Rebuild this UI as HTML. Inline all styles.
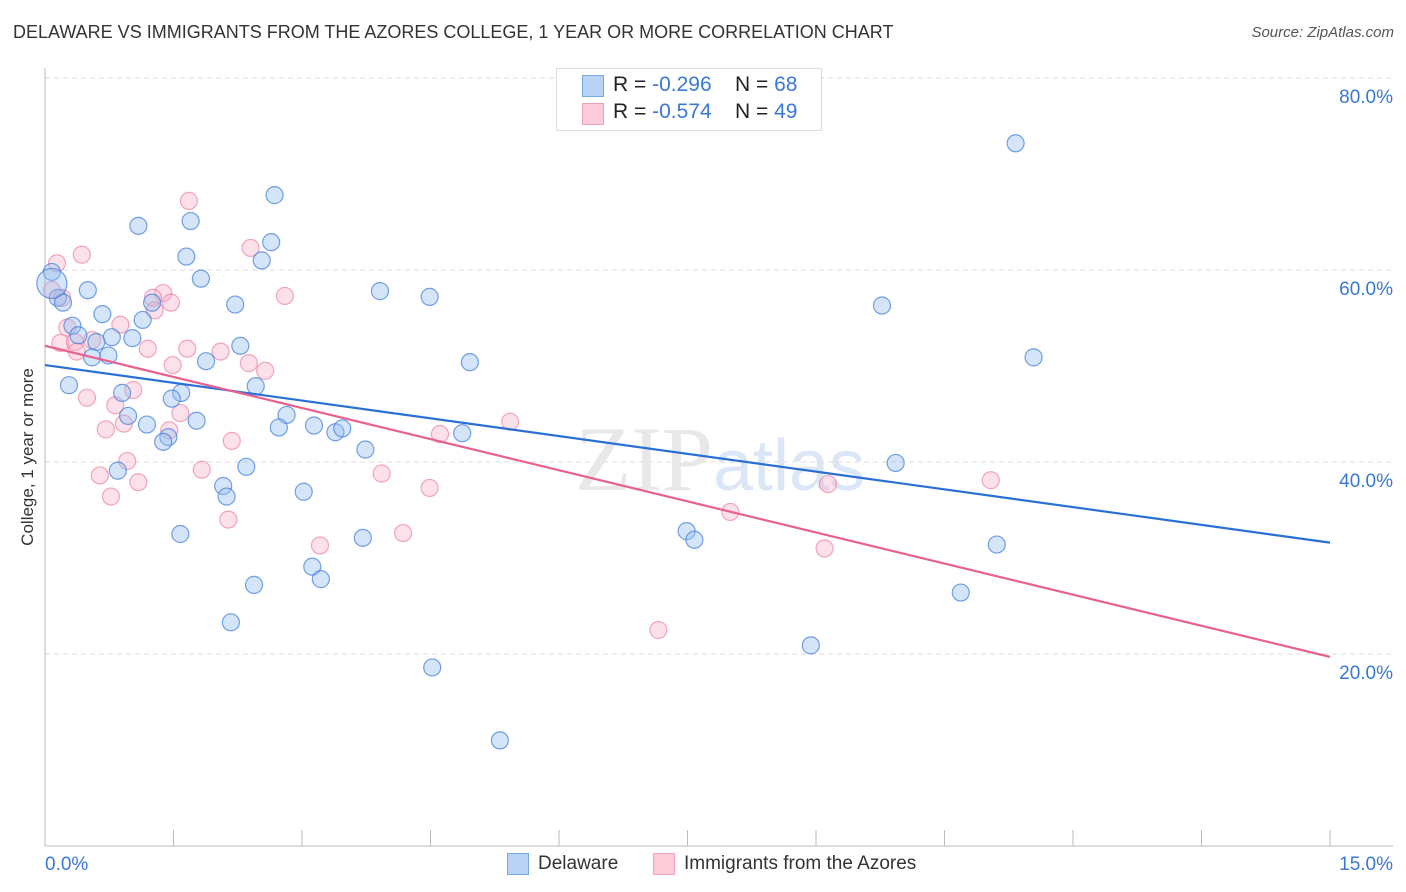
<!DOCTYPE html>
<html><head><meta charset="utf-8">
<style>
body{margin:0;background:#fff;font-family:"Liberation Sans",sans-serif;}
#wrap{position:relative;width:1406px;height:892px;overflow:hidden;}
.t{position:absolute;white-space:nowrap;}
</style></head>
<body>
<div id="wrap">
<div class="t" style="left:13px;top:22px;font-size:18px;color:#333;">DELAWARE VS IMMIGRANTS FROM THE AZORES COLLEGE, 1 YEAR OR MORE CORRELATION CHART</div>
<div class="t" style="right:12px;top:24px;font-size:15px;color:#555;font-style:italic;">Source: ZipAtlas.com</div>
<div class="t" style="left:28px;top:457px;font-size:17px;color:#333;transform:translate(-50%,-50%) rotate(-90deg);">College, 1 year or more</div>
<svg id="chart" width="1406" height="892" style="position:absolute;left:0;top:0"></svg>
<div style="position:absolute;left:556px;top:68px;width:264px;height:61px;border:1px solid #ddd;background:#fff;"></div>
<div style="position:absolute;left:582px;top:75px;width:20px;height:20px;background:#b9d3f5;border:1px solid #7aa8e6;"></div>
<div style="position:absolute;left:582px;top:103px;width:20px;height:20px;background:#fbcbd9;border:1px solid #f0a0b8;"></div>
<div class="t" style="left:613px;top:73px;font-size:21px;color:#222;">R = <span style="color:#3a78d6">-0.296</span>&nbsp;&nbsp;&nbsp;&nbsp;N = <span style="color:#3a78d6">68</span></div>
<div class="t" style="left:613px;top:100px;font-size:21px;color:#222;">R = <span style="color:#3a78d6">-0.574</span>&nbsp;&nbsp;&nbsp;&nbsp;N = <span style="color:#3a78d6">49</span></div>
<div style="position:absolute;left:507px;top:853px;width:20px;height:20px;background:#b9d3f5;border:1px solid #7aa8e6;"></div>
<div class="t" style="left:538px;top:853px;font-size:19px;color:#333;">Delaware</div>
<div style="position:absolute;left:653px;top:853px;width:20px;height:20px;background:#fbcbd9;border:1px solid #f0a0b8;"></div>
<div class="t" style="left:684px;top:853px;font-size:19px;color:#333;">Immigrants from the Azores</div>
</div>
<script>
const xTicks=[0,1.5,3,4.5,6,7.5,9,10.5,12,13.5,15];
const yTicks=[20,40,60,80];
const yTickLabels=["20.0%","40.0%","60.0%","80.0%"];
const blueX=[11.33,2.68,1.09,1.70,2.64,1.65,2.53,1.82,0.08,0.50,3.91,4.49,2.22,0.15,0.21,1.25,1.14,0.67,0.32,0.39,0.78,1.02,0.60,0.55,0.74,2.28,1.88,4.96,11.54,9.77,0.28,0.90,1.59,1.48,2.46,0.97,1.19,1.77,2.82,2.73,3.14,3.39,3.47,1.44,1.38,3.74,4.87,2.35,0.85,2.08,2.12,3.02,9.93,1.58,3.71,7.49,7.58,11.11,3.12,3.22,2.44,10.69,8.94,2.17,4.52,5.31,0.08];
const blueY=[73.2,67.8,64.6,65.1,62.9,61.4,61.0,59.1,59.8,57.9,57.8,57.2,56.4,57.1,56.6,56.6,54.8,55.4,54.2,53.2,53.0,52.9,52.5,50.9,51.1,52.1,50.5,50.4,50.9,56.3,48.0,47.2,47.2,46.6,47.9,44.8,43.9,44.3,44.9,43.6,43.8,43.1,43.5,42.6,42.1,41.3,43.0,39.5,39.1,37.5,36.4,36.9,39.9,32.5,32.1,32.8,31.9,31.4,29.1,27.8,27.2,26.4,20.9,23.3,18.6,11.0,58.6];
const pinkX=[1.68,0.43,0.14,2.40,2.80,1.38,1.26,1.47,1.28,0.26,0.88,0.18,0.35,0.37,0.55,1.20,1.66,1.49,2.05,2.38,2.57,1.03,0.49,0.82,1.58,0.71,0.92,1.45,2.18,4.61,5.43,1.83,0.64,0.96,1.09,0.77,2.14,3.93,4.49,3.21,4.18,8.00,9.14,11.04,9.10,7.16,0.08,0.20];
const pinkY=[67.2,61.6,60.7,62.3,57.3,57.6,57.1,56.6,55.8,54.0,54.3,52.4,52.5,51.5,52.7,51.8,51.8,50.1,51.5,50.3,49.5,47.5,46.7,45.9,45.1,43.4,44.0,43.3,42.2,42.9,44.2,39.2,38.6,40.1,37.9,36.4,34.0,38.8,37.3,31.3,32.6,34.8,37.7,38.1,31.0,22.5,57.9,57.1];
const blueTrend=[50.1,31.6];
const pinkTrend=[52.1,19.7];
const xs=v=>45+v/15*1285;
const ys=v=>846-v*9.6;
const svg=document.getElementById('chart');
const NS='http://www.w3.org/2000/svg';
function mk(tag,attrs){const e=document.createElementNS(NS,tag);for(const k in attrs)e.setAttribute(k,attrs[k]);svg.appendChild(e);return e;}
yTicks.forEach((t,i)=>{
 const g=mk('line',{x1:45,x2:1393,y1:ys(t),y2:ys(t),stroke:'#ddd','stroke-dasharray':'5,4'});
 
 
 const tx=mk('text',{x:1393,y:ys(t)+25,'text-anchor':'end','font-size':19,fill:'#3a78d6','font-family':'Liberation Sans, sans-serif'});
 tx.textContent=yTickLabels[i];
 
 
});
const ax=mk('line',{x1:45,x2:45,y1:68,y2:846,stroke:'#bbb'});


const bx=mk('line',{x1:45,x2:1393,y1:846,y2:846,stroke:'#bbb'});


xTicks.forEach(t=>{
 const l=mk('line',{x1:xs(t),x2:xs(t),y1:830,y2:846,stroke:'#bbb'});
 
 
});
const xl0=mk('text',{x:45,y:870,'font-size':19,fill:'#3a78d6','font-family':'Liberation Sans, sans-serif'});xl0.textContent='0.0%';


const xl1=mk('text',{x:1393,y:870,'text-anchor':'end','font-size':19,fill:'#3a78d6','font-family':'Liberation Sans, sans-serif'});xl1.textContent='15.0%';


const wm=mk('text',{x:720,y:490,'text-anchor':'middle','font-size':92,'font-family':'Liberation Serif, serif',fill:'#e8e8e8'});
wm.innerHTML='ZIP<tspan fill="#dbe7f7" font-family="Liberation Sans, sans-serif" font-size="72">atlas</tspan>';


pinkX.forEach((x,i)=>{
 const c=mk('circle',{cx:xs(x),cy:ys(pinkY[i]),r:8.5,fill:'rgba(248,170,195,0.35)',stroke:'rgba(236,130,165,0.7)','stroke-width':1.2});
 
 
});
blueX.forEach((x,i)=>{
 const c=mk('circle',{cx:xs(x),cy:ys(blueY[i]),r:i===blueX.length-1?15:8.5,fill:'rgba(150,190,240,0.4)',stroke:'rgba(70,130,220,0.75)','stroke-width':1.2});
 
 
});
const tb=mk('line',{x1:xs(0),y1:ys(blueTrend[0]),x2:xs(15),y2:ys(blueTrend[1]),stroke:'#2a6fd6','stroke-width':2.2});


const tp=mk('line',{x1:xs(0),y1:ys(pinkTrend[0]),x2:xs(15),y2:ys(pinkTrend[1]),stroke:'#e8608e','stroke-width':2.2});


</script>
</body></html>
